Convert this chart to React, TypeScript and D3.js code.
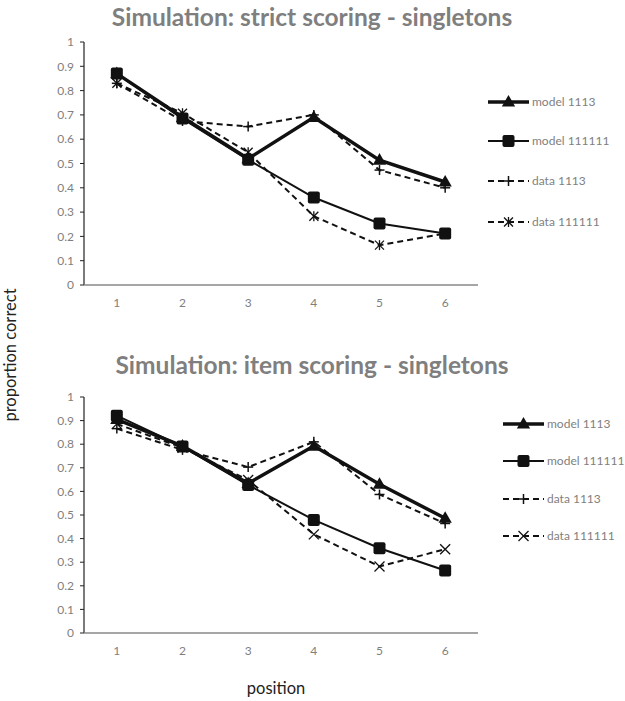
import React from "react";
import * as d3 from "d3";

const positions = [1, 2, 3, 4, 5, 6];
const yTicks = [0, 0.1, 0.2, 0.3, 0.4, 0.5, 0.6, 0.7, 0.8, 0.9, 1];
const seriesNames = ["model 1113", "model 111111", "data 1113", "data 111111"];

const strictModel1113 = [0.87, 0.69, 0.52, 0.69, 0.514, 0.424];
const strictModel111111 = [0.87, 0.685, 0.515, 0.36, 0.253, 0.212];
const strictData1113 = [0.83, 0.675, 0.652, 0.7, 0.473, 0.4];
const strictData111111 = [0.83, 0.707, 0.546, 0.283, 0.164, 0.212];

const itemModel1113 = [0.905, 0.792, 0.634, 0.792, 0.63, 0.486];
const itemModel111111 = [0.921, 0.79, 0.627, 0.479, 0.359, 0.265];
const itemData1113 = [0.866, 0.776, 0.703, 0.81, 0.587, 0.464];
const itemData111111 = [0.886, 0.785, 0.648, 0.418, 0.282, 0.355];

const GREY = "#7f7f7f";
const FONT = "Lato, 'Open Sans', sans-serif";

type Style = { width: number; dash?: string; marker: "tri" | "sq" | "plus" | "star" | "x" };

function Marker({ x, y, kind }: { x: number; y: number; kind: string }) {
  if (kind === "tri") {
    const s = 7;
    return <path d={`M${x},${y - s}L${x + s * 0.95},${y + s * 0.65}L${x - s * 0.95},${y + s * 0.65}Z`} fill="#111" />;
  }
  if (kind === "sq") {
    return <rect x={x - 6} y={y - 6} width={12} height={12} rx={2} fill="#111" />;
  }
  if (kind === "plus") {
    return (
      <g stroke="#111" strokeWidth={1.5}>
        <line x1={x - 5} x2={x + 5} y1={y} y2={y} />
        <line x1={x} x2={x} y1={y - 5} y2={y + 5} />
      </g>
    );
  }
  if (kind === "star") {
    return (
      <g stroke="#111" strokeWidth={1.3}>
        <line x1={x - 4.5} x2={x + 4.5} y1={y - 4.5} y2={y + 4.5} />
        <line x1={x - 4.5} x2={x + 4.5} y1={y + 4.5} y2={y - 4.5} />
        <line x1={x} x2={x} y1={y - 5} y2={y + 5} />
      </g>
    );
  }
  return (
    <g stroke="#111" strokeWidth={1.3}>
      <line x1={x - 5} x2={x + 5} y1={y - 5} y2={y + 5} />
      <line x1={x - 5} x2={x + 5} y1={y + 5} y2={y - 5} />
    </g>
  );
}

function Panel({
  title,
  titleY,
  top,
  bottom,
  series,
  styles,
  legendX,
  legendYs,
}: {
  title: string;
  titleY: number;
  top: number;
  bottom: number;
  series: number[][];
  styles: Style[];
  legendX: number;
  legendYs: number[];
}) {
  const left = 84;
  const right = 478;
  const x = d3.scalePoint<number>().domain(positions).range([left, right]).padding(0.5);
  const y = d3.scaleLinear().domain([0, 1]).range([bottom, top]);
  const line = d3
    .line<number>()
    .x((_, i) => x(positions[i]) as number)
    .y((d) => y(d));
  const order = [2, 3, 1, 0];
  return (
    <g>
      <text x={312} y={titleY} textAnchor="middle" fontFamily={FONT} fontWeight="bold" fontSize={24.5} fill={GREY}>
        {title}
      </text>
      <line x1={left} x2={left} y1={top} y2={bottom} stroke="#222" strokeWidth={1.2} />
      {yTicks.map((t) => (
        <g key={t}>
          <line x1={left - 4} x2={left} y1={y(t)} y2={y(t)} stroke="#222" strokeWidth={1} />
          <text x={left - 10} y={y(t)} dy="0.35em" textAnchor="end" fontFamily={FONT} fontSize={12} fill={GREY}>
            {String(t)}
          </text>
        </g>
      ))}
      <line x1={left} x2={right} y1={bottom} y2={bottom} stroke="#888" strokeWidth={1.5} />
      {positions.map((p) => (
        <text key={p} x={x(p)} y={bottom + 22} textAnchor="middle" fontFamily={FONT} fontSize={12} fill={GREY}>
          {p}
        </text>
      ))}
      {order.map((si) => (
        <g key={si}>
          <path d={line(series[si]) || ""} fill="none" stroke="#111" strokeWidth={styles[si].width} strokeDasharray={styles[si].dash} />
          {series[si].map((v, i) => (
            <Marker key={i} x={x(positions[i]) as number} y={y(v)} kind={styles[si].marker} />
          ))}
        </g>
      ))}
      {seriesNames.map((n, i) => (
        <g key={n}>
          <line x1={legendX} x2={legendX + 41} y1={legendYs[i]} y2={legendYs[i]} stroke="#111" strokeWidth={styles[i].width} strokeDasharray={styles[i].dash} />
          <Marker x={legendX + 20.5} y={legendYs[i]} kind={styles[i].marker} />
          <text x={legendX + 44} y={legendYs[i]} dy="0.35em" fontFamily={FONT} fontSize={12} fill={GREY}>
            {n}
          </text>
        </g>
      ))}
    </g>
  );
}

export default function App() {
  const topStyles: Style[] = [
    { width: 3.5, marker: "tri" },
    { width: 2, marker: "sq" },
    { width: 2, dash: "6,4", marker: "plus" },
    { width: 2, dash: "6,4", marker: "star" },
  ];
  const botStyles: Style[] = [
    { width: 3.5, marker: "tri" },
    { width: 2, marker: "sq" },
    { width: 2, dash: "6,4", marker: "plus" },
    { width: 2, dash: "6,4", marker: "x" },
  ];
  return (
    <svg width={625} height={701} style={{ position: "absolute", left: 0, top: 0, background: "#fff" }}>
      <rect width={625} height={701} fill="#fff" />
      <Panel
        title="Simulation: strict scoring - singletons"
        titleY={26}
        top={42}
        bottom={285}
        series={[strictModel1113, strictModel111111, strictData1113, strictData111111]}
        styles={topStyles}
        legendX={488}
        legendYs={[102, 141, 181, 222]}
      />
      <Panel
        title="Simulation: item scoring - singletons"
        titleY={374}
        top={397}
        bottom={633}
        series={[itemModel1113, itemModel111111, itemData1113, itemData111111]}
        styles={botStyles}
        legendX={503}
        legendYs={[424, 461, 499, 536]}
      />
      <text transform="translate(16,355) rotate(-90)" textAnchor="middle" fontFamily={FONT} fontSize={16.5} fill="#222">
        proportion correct
      </text>
      <text x={276} y={694} textAnchor="middle" fontFamily={FONT} fontSize={16.5} fill="#222">
        position
      </text>
    </svg>
  );
}
